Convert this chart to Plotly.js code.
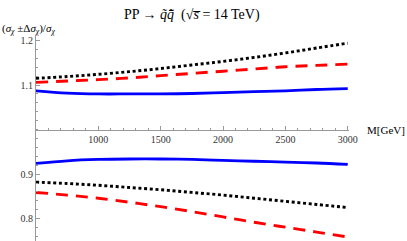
<!DOCTYPE html>
<html><head><meta charset="utf-8">
<script src="https://cdn.plot.ly/plotly-3.0.1.min.js"></script>
<style>html,body{margin:0;padding:0;background:#fff}</style>
</head><body><div id="chart" style="width:407px;height:241px"></div>
<script>
const M = [500, 750, 1000, 1250, 1500, 1750, 2000, 2250, 2500, 2750, 3000];
const blackUp  = [1.115, 1.119, 1.124, 1.130, 1.137, 1.145, 1.153, 1.162, 1.172, 1.183, 1.194];
const redUp    = [1.106, 1.109, 1.112, 1.116, 1.121, 1.126, 1.131, 1.136, 1.141, 1.144, 1.147];
const blueUp   = [1.087, 1.082, 1.080, 1.080, 1.080, 1.081, 1.083, 1.085, 1.087, 1.090, 1.092];
const blueLow  = [0.924, 0.930, 0.933, 0.934, 0.934, 0.933, 0.931, 0.929, 0.927, 0.925, 0.922];
const blackLow = [0.882, 0.879, 0.875, 0.870, 0.865, 0.859, 0.853, 0.846, 0.839, 0.832, 0.825];
const redLow   = [0.859, 0.853, 0.846, 0.837, 0.827, 0.816, 0.804, 0.792, 0.781, 0.770, 0.759];
const xTicks = [1000, 1500, 2000, 2500, 3000];
const yTicks = [0.8, 0.9, 1.1, 1.2];

const styles = {
  blue:  {color: 'rgb(0,0,255)', width: 2.8, dash: 'solid'},
  red:   {color: 'rgb(255,0,0)', width: 2.9, dash: '12px,8px'},
  black: {color: 'rgb(0,0,0)',   width: 2.9, dash: '3px,2.7px'}
};
function tr(y, s){ return {x: M, y: y, type: 'scatter', mode: 'lines', line: Object.assign({shape: 'spline'}, styles[s]), showlegend: false, hoverinfo: 'skip'}; }
const data = [tr(blueUp,'blue'), tr(blueLow,'blue'), tr(redUp,'red'), tr(redLow,'red'), tr(blackUp,'black'), tr(blackLow,'black')];

const yMin = 0.75, yMax = 1.21;
const serif = 'Liberation Serif, Times New Roman, serif';
const layout = {
  width: 407, height: 241,
  margin: {l: 36, r: 58, t: 36, b: 0},
  paper_bgcolor: '#fff', plot_bgcolor: '#fff',
  font: {family: serif, size: 10, color: '#333'},
  xaxis: {
    range: [500, 3010], anchor: 'free', position: (1 - yMin) / (yMax - yMin),
    showgrid: false, zeroline: false, showline: true, linecolor: '#999', linewidth: 1,
    tickvals: xTicks, ticktext: xTicks.map(String), ticks: 'inside', ticklen: 4, tickcolor: '#999', tickwidth: 1,
    minor: {dtick: 100, tick0: 500, ticks: 'inside', ticklen: 2, tickcolor: '#999', tickwidth: 1, showgrid: false},
    tickfont: {family: serif, size: 10, color: '#333'}, fixedrange: true
  },
  yaxis: {
    range: [yMin, yMax], showgrid: false, zeroline: false, showline: true, linecolor: '#999', linewidth: 1,
    tickvals: yTicks, ticktext: yTicks.map(v => v.toFixed(1)), ticks: 'inside', ticklen: 4, tickcolor: '#999', tickwidth: 1,
    minor: {dtick: 0.02, tick0: 0.8, ticks: 'inside', ticklen: 2, tickcolor: '#999', tickwidth: 1, showgrid: false},
    tickfont: {family: serif, size: 10, color: '#333'}, fixedrange: true
  },
  annotations: [
    {xref: 'paper', yref: 'paper', x: (192 - 36) / 313, xanchor: 'center', y: (36 - 15 + 205) / 205, yanchor: 'middle', showarrow: false,
     text: 'PP → <i>q̃q̃̄</i>  (√<i>s̅</i> = 14 TeV)', font: {family: serif, size: 14, color: '#000'}},
    {xref: 'paper', yref: 'paper', x: -36/313, xanchor: 'left', y: (205 + 36 - 29) / 205, yanchor: 'middle', showarrow: false,
     text: '(<i>σ</i><sub><i>χ</i></sub> ±Δ<i>σ</i><sub><i>χ</i></sub>)/<i>σ</i><sub><i>χ</i></sub>', font: {family: serif, size: 11, color: '#000'}},
    {xref: 'paper', yref: 'paper', x: (407 - 36) / 313, xanchor: 'right', y: (1 - yMin) / (yMax - yMin), yanchor: 'middle', showarrow: false,
     text: 'M[GeV]', font: {family: serif, size: 11, color: '#000'}}
  ]
};
Plotly.newPlot('chart', data, layout, {staticPlot: true, displayModeBar: false});
</script></body></html>
